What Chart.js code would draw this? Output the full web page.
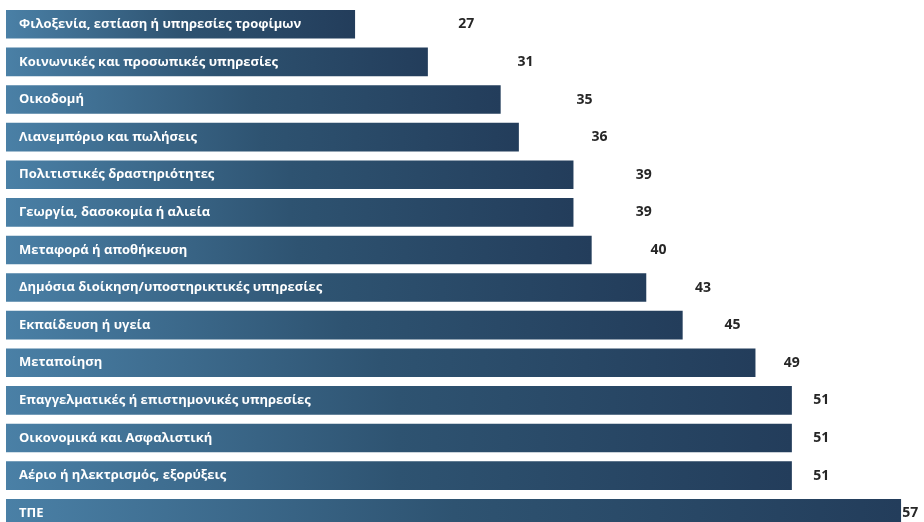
<!DOCTYPE html>
<html>
<head>
<meta charset="utf-8">
<script src="https://cdn.jsdelivr.net/npm/chart.js@4"></script>
<style>
  html, body { margin: 0; padding: 0; background: #fff; overflow: hidden; }
  #chart { display: block; }
</style>
</head>
<body>
<canvas id="chart" width="924" height="532"></canvas>
<script>
// --- data ---
const categories = [
    'Φιλοξενία, εστίαση ή υπηρεσίες τροφίμων',
    'Κοινωνικές και προσωπικές υπηρεσίες',
    'Οικοδομή',
    'Λιανεμπόριο και πωλήσεις',
    'Πολιτιστικές δραστηριότητες',
    'Γεωργία, δασοκομία ή αλιεία',
    'Μεταφορά ή αποθήκευση',
    'Δημόσια διοίκηση/υποστηρικτικές υπηρεσίες',
    'Εκπαίδευση ή υγεία',
    'Μεταποίηση',
    'Επαγγελματικές ή επιστημονικές υπηρεσίες',
    'Οικονομικά και Ασφαλιστική',
    'Αέριο ή ηλεκτρισμός, εξορύξεις',
    'ΤΠΕ'
];
const values = [27, 31, 35, 36, 39, 39, 40, 43, 45, 49, 51, 51, 51, 57];

const FONT = '"Open Sans", "DejaVu Sans", sans-serif';

// gradient per bar: light steel blue on the left, navy on the right
function barGradient(context) {
    const chart = context.chart;
    const area = chart.chartArea;
    if (!area || context.dataIndex === undefined) return '#2e5371';
    const xs = chart.scales.x;
    const x0 = xs.getPixelForValue(xs.min);
    const x1 = xs.getPixelForValue(values[context.dataIndex]);
    const g = chart.ctx.createLinearGradient(x0, 0, x1, 0);
    g.addColorStop(0, '#4a80a6');
    g.addColorStop(0.5, '#2e5371');
    g.addColorStop(1, '#233d5b');
    return g;
}

// labels inside the bars and values to the right
const labelPlugin = {
    id: 'barLabels',
    afterDatasetsDraw(chart) {
        const ctx = chart.ctx;
        const meta = chart.getDatasetMeta(0);
        const x2 = chart.scales.x2;
        ctx.save();
        ctx.textBaseline = 'middle';
        meta.data.forEach((bar, i) => {
            ctx.font = 'bold 13px ' + FONT;
            ctx.fillStyle = '#ffffff';
            ctx.textAlign = 'left';
            ctx.fillText(categories[i], chart.chartArea.left + 13, bar.y);
            ctx.font = 'bold 14px ' + FONT;
            ctx.fillStyle = '#262626';
            ctx.textAlign = 'center';
            ctx.fillText(String(values[i]), x2.getPixelForValue(values[i]), bar.y);
        });
        ctx.restore();
    }
};

new Chart(document.getElementById('chart'), {
    type: 'bar',
    data: {
        labels: categories,
        datasets: [{
            data: values,
            backgroundColor: barGradient,
            borderWidth: 0,
            categoryPercentage: 1.0,
            barPercentage: 0.76
        }]
    },
    options: {
        indexAxis: 'y',
        responsive: false,
        animation: false,
        devicePixelRatio: 1,
        layout: { padding: { left: 6, top: 5.5, right: 2, bottom: 0 } },
        plugins: { legend: { display: false }, tooltip: { enabled: false } },
        scales: {
            x: { display: false, min: 7.82, max: 58.15 },
            x2: { type: 'linear', display: false, position: 'top', min: -4.1, max: 57.8 },
            y: { display: false }
        }
    },
    plugins: [labelPlugin]
});
</script>
</body>
</html>
